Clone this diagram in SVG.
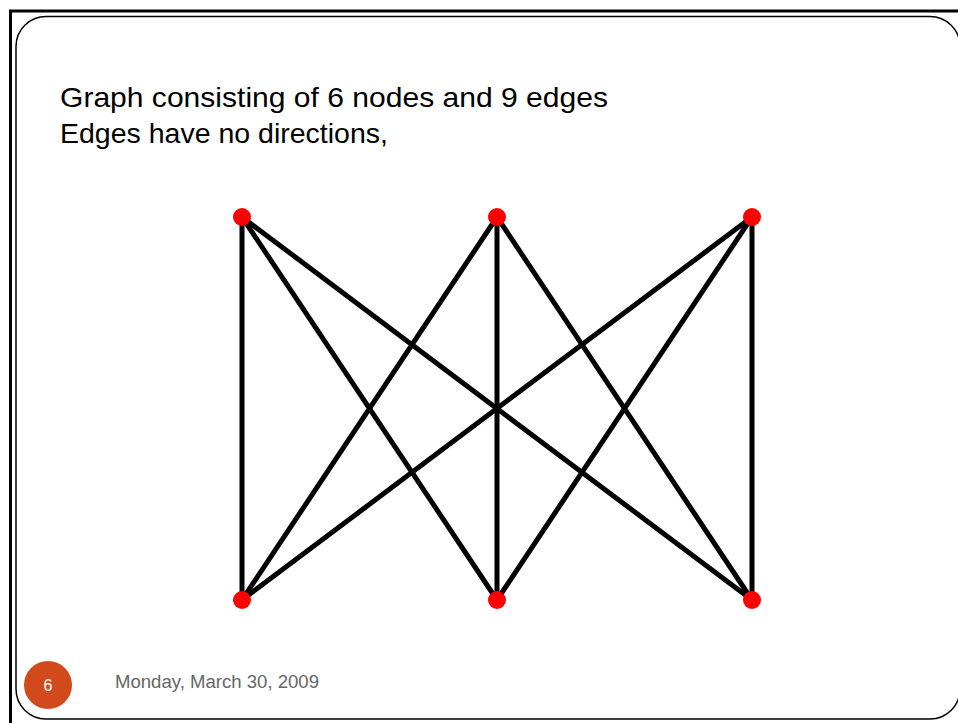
<svg xmlns="http://www.w3.org/2000/svg" width="958" height="723" viewBox="0 0 958 723">
<style>
.edge{stroke:#000;stroke-width:5;stroke-linecap:round}
.node{fill:#ff0000}
.title{font-family:"Liberation Sans",Arial,sans-serif;font-size:28px;fill:#000}
</style>
<rect x="0" y="0" width="958" height="723" fill="#fff"/>
<rect x="10.5" y="11" width="960" height="720" fill="none" stroke="#000" stroke-width="3"/>
<rect x="16" y="16.5" width="944" height="702.5" rx="30" ry="30" fill="none" stroke="#000" stroke-width="1.5"/>
<text class="title" x="60" y="107" textLength="548" lengthAdjust="spacingAndGlyphs">Graph consisting of 6 nodes and 9 edges</text>
<text class="title" x="60" y="143" textLength="328" lengthAdjust="spacingAndGlyphs">Edges have no directions,</text>
<g id="connectors">
<line class="edge" x1="242" y1="217" x2="242" y2="600"/>
<line class="edge" x1="242" y1="217" x2="497" y2="600"/>
<line class="edge" x1="242" y1="217" x2="752" y2="600"/>
<line class="edge" x1="497" y1="217" x2="242" y2="600"/>
<line class="edge" x1="497" y1="217" x2="497" y2="600"/>
<line class="edge" x1="497" y1="217" x2="752" y2="600"/>
<line class="edge" x1="752" y1="217" x2="242" y2="600"/>
<line class="edge" x1="752" y1="217" x2="497" y2="600"/>
<line class="edge" x1="752" y1="217" x2="752" y2="600"/>
</g>
<g id="n1"><circle class="node" cx="242" cy="217" r="9"/></g>
<g id="n2"><circle class="node" cx="497" cy="217" r="9"/></g>
<g id="n3"><circle class="node" cx="752" cy="217" r="9"/></g>
<g id="n4"><circle class="node" cx="242" cy="600" r="9"/></g>
<g id="n5"><circle class="node" cx="497" cy="600" r="9"/></g>
<g id="n6"><circle class="node" cx="752" cy="600" r="9"/></g>
<g id="footer">
<circle cx="48" cy="685" r="24" fill="#d24a1b"/>
<text x="48" y="691" text-anchor="middle" font-family="'Liberation Sans',Arial,sans-serif" font-size="16" fill="#fff">6</text>
<text x="115" y="688" font-family="'Liberation Sans',Arial,sans-serif" font-size="18" fill="#666" textLength="204" lengthAdjust="spacingAndGlyphs">Monday, March 30, 2009</text>
</g>
</svg>
